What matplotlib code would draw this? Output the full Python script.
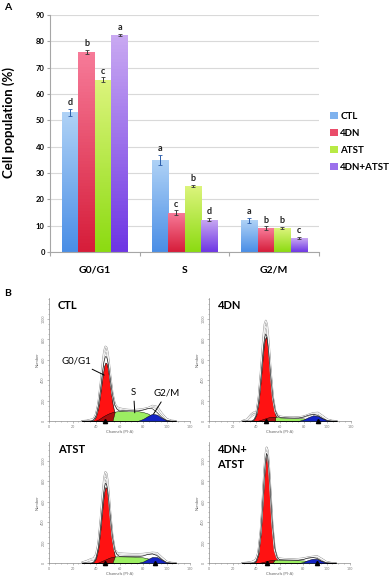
import numpy as np
import matplotlib.pyplot as plt
from matplotlib.colors import LinearSegmentedColormap
from matplotlib.patches import Patch
from matplotlib.ticker import MultipleLocator, FixedLocator

plt.rcParams['font.family'] = ['Lato', 'DejaVu Sans']

# ---- panel A: cell cycle distribution (%)
phases = ['G0/G1', 'S', 'G2/M']
groups = ['CTL', '4DN', 'ATST', '4DN+ATST']
ctl = [53.0, 35.0, 12.0]
dn = [76.0, 15.0, 9.0]
atst = [65.5, 25.0, 9.0]
combo = [82.3, 12.3, 5.2]
ctl_err = [1.2, 1.9, 1.0]
dn_err = [0.7, 0.8, 0.7]
atst_err = [0.8, 0.5, 0.4]
combo_err = [0.4, 0.5, 0.4]
ctl_sig = ['d', 'a', 'a']
dn_sig = ['b', 'c', 'b']
atst_sig = ['c', 'b', 'b']
combo_sig = ['a', 'd', 'c']

# ---- panel B: DNA histograms (channel vs number)
ch = [28, 32, 36, 38, 40, 42, 44, 45, 46, 47, 48, 49, 50, 51, 52, 54, 56, 58, 60, 64,
      68, 72, 76, 80, 84, 88, 92, 96, 100, 104, 108]

ctl_g1 = [0, 0, 0, 12, 46, 135, 293, 386, 474, 541, 573, 565, 518, 441, 349, 175, 66, 18, 0, 0,
          0, 0, 0, 0, 0, 0, 0, 0, 0, 0, 0]
ctl_s = [0, 0, 0, 0, 5, 15, 30, 38, 45, 52, 58, 64, 70, 75, 80, 87, 92, 95, 98, 100,
         100, 99, 96, 88, 74, 48, 22, 6, 0, 0, 0]
ctl_g2 = [0, 0, 0, 0, 0, 0, 0, 0, 0, 0, 0, 0, 0, 0, 0, 0, 0, 0, 0, 0,
          0, 0, 3, 20, 48, 72, 62, 30, 6, 0, 0]
ctl_raw1 = [0, 3, 15, 20, 70, 180, 380, 500, 610, 690, 730, 720, 670, 580, 470, 280, 170, 135, 125, 115,
            110, 108, 112, 118, 128, 140, 128, 70, 20, 3, 0]
ctl_raw2 = [0, 2, 10, 15, 60, 165, 350, 460, 570, 650, 690, 685, 635, 550, 440, 260, 160, 125, 115, 105,
            100, 100, 105, 112, 125, 150, 140, 75, 20, 3, 0]
ctl_marks = [48]

dn_g1 = [0, 0, 0, 14, 61, 190, 430, 573, 702, 793, 826, 793, 702, 573, 430, 190, 61, 14, 0, 0,
         0, 0, 0, 0, 0, 0, 0, 0, 0, 0, 0]
dn_s = [0, 0, 0, 0, 0, 5, 12, 16, 20, 24, 28, 32, 35, 38, 40, 42, 40, 38, 35, 32,
        30, 29, 28, 25, 18, 10, 4, 0, 0, 0, 0]
dn_g2 = [0, 0, 0, 0, 0, 0, 0, 0, 0, 0, 0, 0, 0, 0, 0, 0, 0, 0, 0, 0,
         0, 0, 2, 15, 38, 56, 50, 25, 5, 0, 0]
dn_raw1 = [0, 15, 70, 85, 80, 240, 520, 690, 840, 950, 984, 950, 840, 690, 520, 240, 100, 55, 45, 38,
           35, 35, 38, 45, 62, 78, 82, 50, 15, 2, 0]
dn_raw2 = [0, 10, 50, 65, 70, 220, 480, 640, 790, 900, 930, 900, 790, 650, 490, 225, 92, 50, 40, 35,
           33, 33, 35, 42, 55, 70, 75, 45, 12, 2, 0]
dn_marks = [48, 92]

atst_g1 = [0, 0, 0, 10, 45, 148, 350, 479, 601, 696, 743, 731, 663, 553, 427, 198, 66, 16, 0, 0,
           0, 0, 0, 0, 0, 0, 0, 0, 0, 0, 0]
atst_s = [0, 0, 0, 0, 0, 5, 15, 20, 25, 30, 35, 40, 45, 50, 54, 60, 64, 65, 65, 64,
          63, 62, 60, 55, 45, 30, 14, 4, 0, 0, 0]
atst_g2 = [0, 0, 0, 0, 0, 0, 0, 0, 0, 0, 0, 0, 0, 0, 0, 0, 0, 0, 0, 0,
           0, 0, 2, 14, 38, 60, 58, 30, 6, 0, 0]
atst_raw1 = [5, 20, 40, 45, 85, 200, 440, 590, 730, 840, 890, 875, 800, 670, 520, 270, 130, 100, 95, 92,
             90, 88, 88, 90, 96, 102, 98, 55, 15, 2, 0]
atst_raw2 = [3, 15, 30, 35, 70, 180, 410, 550, 680, 780, 830, 815, 745, 625, 485, 255, 120, 92, 86, 82,
             80, 80, 80, 84, 88, 92, 90, 50, 12, 2, 0]
atst_marks = [48, 90]

combo_g1 = [0, 0, 0, 0, 17, 84, 282, 446, 640, 833, 983, 1053, 1023, 901, 720, 343, 111, 24, 0, 0,
            0, 0, 0, 0, 0, 0, 0, 0, 0, 0, 0]
combo_s = [0, 0, 0, 0, 0, 0, 5, 7, 10, 13, 16, 19, 22, 25, 27, 30, 32, 32, 31, 30,
           29, 28, 27, 25, 20, 12, 5, 0, 0, 0, 0]
combo_g2 = [0, 0, 0, 0, 0, 0, 0, 0, 0, 0, 0, 0, 0, 0, 0, 0, 0, 0, 0, 0,
            0, 0, 0, 8, 28, 42, 40, 18, 3, 0, 0]
combo_raw1 = [0, 3, 10, 20, 35, 110, 320, 490, 700, 900, 1060, 1130, 1100, 970, 780, 380, 130, 55, 45, 40,
              38, 38, 40, 45, 55, 62, 68, 40, 10, 1, 0]
combo_raw2 = [0, 2, 8, 15, 30, 100, 300, 465, 665, 860, 1015, 1085, 1055, 930, 745, 360, 120, 50, 42, 37,
              35, 35, 37, 42, 50, 58, 62, 36, 8, 1, 0]
combo_marks = [49, 92]

bar_top = ['#afd2f6', '#f77b99', '#dcf47c', '#c9a9f2']
bar_bottom = ['#4a8ee6', '#d61d3a', '#8cdb12', '#6e36e4']
bar_mid = ['#7fb2ee', '#ea4c6a', '#b8ea45', '#9b70ec']
err_colors = ['#2a5caa', '#3a3a3a', '#3a3a3a', '#3a3a3a']

W, H = 392, 580
fig = plt.figure(figsize=(W / 100, H / 100), dpi=100)

# ================= panel A =================
ax = fig.add_axes([50 / W, 1 - 252 / H, 269 / W, 237 / H])
x = np.arange(len(phases))
w = 0.184
series = [ctl, dn, atst, combo]
errors = [ctl_err, dn_err, atst_err, combo_err]
letters = [ctl_sig, dn_sig, atst_sig, combo_sig]
grad = np.linspace(0, 1, 64).reshape(-1, 1)

for i in range(len(groups)):
    xs = x + (i - 1.5) * w
    bars = ax.bar(xs, series[i], w, color='none', edgecolor='none', zorder=2)
    cmap = LinearSegmentedColormap.from_list('g%d' % i, [bar_bottom[i], bar_top[i]])
    for b in bars:
        x0, h = b.get_x(), b.get_height()
        im = ax.imshow(grad, cmap=cmap, origin='lower', aspect='auto',
                       extent=[x0, x0 + w, 0, h], zorder=2)
        im.set_clip_path(b)
    ax.errorbar(xs, series[i], yerr=errors[i], fmt='none', ecolor=err_colors[i],
                elinewidth=0.7, capsize=1.3, capthick=0.6, zorder=3)
    for xx, v, e, s in zip(xs, series[i], errors[i], letters[i]):
        ax.text(xx, v + e + 0.7, s, ha='center', va='bottom', fontsize=6.5,
                fontweight='bold', color='#222222')

ax.set_xlim(-0.5, 2.5)
ax.set_ylim(0, 90)
ax.yaxis.set_major_locator(MultipleLocator(10))
ax.yaxis.grid(True, color='#d9d9d9', lw=0.8)
ax.set_axisbelow(True)
for side in ['top', 'right']:
    ax.spines[side].set_visible(False)
for side in ['left', 'bottom']:
    ax.spines[side].set_color('#a6a6a6')
    ax.spines[side].set_linewidth(0.8)
ax.set_xticks(x)
ax.set_xticklabels(phases, fontsize=7.5, fontweight='bold')
ax.xaxis.set_minor_locator(FixedLocator([-0.5, 0.5, 1.5, 2.5]))
ax.tick_params(axis='x', which='major', length=0, pad=10)
ax.tick_params(axis='x', which='minor', length=3, color='#a6a6a6', width=0.8)
ax.tick_params(axis='y', length=2.2, color='#a6a6a6', width=0.8, pad=1.5, labelsize=5.5)
for lab in ax.get_yticklabels():
    lab.set_fontweight('bold')

fig.text(9 / W, 1 - 122 / H, 'Cell population (%)', rotation=90, ha='center', va='center',
         fontsize=9.5, fontweight='bold')

handles = [Patch(facecolor=c, edgecolor='none') for c in bar_mid]
ax.legend(handles, groups, loc='center left', bbox_to_anchor=(1.041, 0.465), frameon=False,
          borderpad=0, borderaxespad=0, handlelength=0.8, handleheight=0.8,
          handletextpad=0.25, labelspacing=0.8, prop={'size': 7, 'weight': 'bold'})

fig.text(8 / W, 1 - 8 / H, 'A', fontsize=7.5, fontweight='bold', ha='center', va='center')
fig.text(8 / W, 1 - 293 / H, 'B', fontsize=7.5, fontweight='bold', ha='center', va='center')

# ================= panel B =================
chx = np.array(ch)


def draw_hist(rect, ytop, g1, s, g2, raw1, raw2, marks):
    hx = fig.add_axes(rect)
    g1, s, g2 = np.array(g1), np.array(s), np.array(g2)
    hx.fill_between(chx, 0, g1, color='#ff1212', edgecolor='black', lw=0.4, zorder=2)
    hx.fill_between(chx, 0, s, where=chx <= 56, interpolate=True, color='#a80d0d',
                    edgecolor='black', lw=0.3, zorder=3)
    hx.fill_between(chx, 0, s, where=chx >= 56, interpolate=True, color='#9cee62',
                    edgecolor='black', lw=0.3, zorder=3)
    hx.fill_between(chx, 0, g2, color='#1424c4', edgecolor='black', lw=0.3, zorder=4)
    for r in [raw1, raw2]:
        hx.plot(chx, r, color='#9a9a9a', lw=1.3, zorder=5, solid_capstyle='round')
    for r in [raw1, raw2]:
        hx.plot(chx, r, color='white', lw=0.6, zorder=6)
    hx.plot(chx, g1 + s + g2, color='black', lw=0.4, zorder=7)
    hx.plot(marks, [0] * len(marks), marker='^', color='black', ms=3, lw=0,
            clip_on=False, zorder=8)
    hx.set_xlim(0, 120)
    hx.set_ylim(0, ytop)
    hx.xaxis.set_major_locator(MultipleLocator(20))
    hx.xaxis.set_minor_locator(MultipleLocator(5))
    hx.yaxis.set_major_locator(FixedLocator([0, 200, 400, 600, 800, 1000]))
    hx.yaxis.set_minor_locator(MultipleLocator(50))
    for side in ['top', 'right']:
        hx.spines[side].set_visible(False)
    for side in ['left', 'bottom']:
        hx.spines[side].set_color('#8a8a8a')
        hx.spines[side].set_linewidth(0.5)
    hx.tick_params(which='both', color='#8a8a8a', width=0.4, labelsize=2.6,
                   labelcolor='#7a7a7a', pad=1)
    hx.tick_params(which='major', length=1.6)
    hx.tick_params(which='minor', length=0.9)
    for lab in hx.get_yticklabels():
        lab.set_rotation(90)
        lab.set_va('center')
    hx.set_xlabel('Channels (PI-A)', fontsize=3, color='#666666', labelpad=0.5)
    hx.set_ylabel('Number', fontsize=3, color='#666666', labelpad=1)
    return hx


top_rect_y = 1 - 421 / H
top_h = 123 / H
bot_rect_y = 1 - 563 / H
bot_h = 121 / H

h1 = draw_hist([49 / W, top_rect_y, 141 / W, top_h], 1206, ctl_g1, ctl_s, ctl_g2,
               ctl_raw1, ctl_raw2, ctl_marks)
h2 = draw_hist([209 / W, top_rect_y, 142 / W, top_h], 1206, dn_g1, dn_s, dn_g2,
               dn_raw1, dn_raw2, dn_marks)
h3 = draw_hist([49 / W, bot_rect_y, 141 / W, bot_h], 1183, atst_g1, atst_s, atst_g2,
               atst_raw1, atst_raw2, atst_marks)
h4 = draw_hist([209 / W, bot_rect_y, 141 / W, bot_h], 1183, combo_g1, combo_s, combo_g2,
               combo_raw1, combo_raw2, combo_marks)

title_kw = dict(fontsize=8, fontweight='bold', ha='left', va='center')
h1.text(0.064, 0.943, 'CTL', transform=h1.transAxes, **title_kw)
h2.text(0.06, 0.943, '4DN', transform=h2.transAxes, **title_kw)
h3.text(0.064, 0.942, 'ATST', transform=h3.transAxes, **title_kw)
h4.text(0.06, 0.942, '4DN+', transform=h4.transAxes, **title_kw)
h4.text(0.06, 0.818, 'ATST', transform=h4.transAxes, **title_kw)

arrow = dict(arrowstyle='-', color='black', lw=0.7, shrinkA=1, shrinkB=0)
h1.annotate('G0/G1', xy=(47, 450), xytext=(23, 585), fontsize=7, ha='center', va='center',
            arrowprops=arrow, zorder=9)
h1.annotate('S', xy=(73, 80), xytext=(72, 280), fontsize=7, ha='center', va='center',
            arrowprops=arrow, zorder=9)
h1.annotate('G2/M', xy=(89, 69), xytext=(100, 270), fontsize=7, ha='center', va='center',
            arrowprops=arrow, zorder=9)

fig.savefig('out.png', dpi=100)
